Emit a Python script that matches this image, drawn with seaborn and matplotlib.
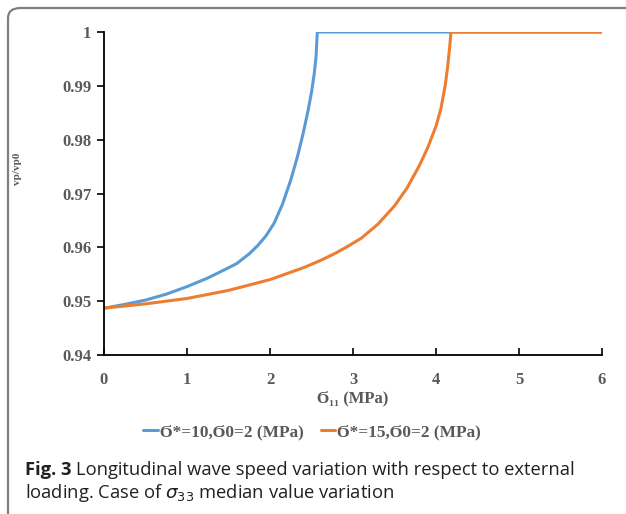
import matplotlib
matplotlib.use("Agg")
import matplotlib.pyplot as plt
import seaborn as sns
import pandas as pd
from matplotlib.patches import FancyBboxPatch

# 读图得到的数据
blue_x = [0, 0.25, 0.5, 0.75, 1.0, 1.25, 1.5, 1.6, 1.75, 1.85, 1.95, 2.05, 2.15, 2.25, 2.33, 2.4,
          2.46, 2.5, 2.535, 2.555, 2.57, 4.2, 6.0]
blue_y = [0.9487, 0.9494, 0.9502, 0.9513, 0.9527, 0.9543, 0.9562, 0.9570, 0.9588, 0.9603, 0.9621,
          0.9645, 0.9680, 0.9725, 0.9768, 0.9812, 0.9855, 0.9888, 0.9925, 0.9955, 1.0, 1.0, 1.0]
orange_x = [0, 0.5, 1.0, 1.5, 2.0, 2.4, 2.6, 2.8, 2.95, 3.1, 3.3, 3.5, 3.65, 3.8, 3.9, 4.0, 4.06,
            4.11, 4.14, 4.165, 4.18, 6.0]
orange_y = [0.9487, 0.9495, 0.9505, 0.9520, 0.9540, 0.9562, 0.9575, 0.9590, 0.9603, 0.9617, 0.9643,
            0.9677, 0.9710, 0.9752, 0.9785, 0.9825, 0.9858, 0.9900, 0.9935, 0.9972, 1.0, 1.0]
series_names = ["Ϭ*=10,Ϭ0=2 (MPa)", "Ϭ*=15,Ϭ0=2 (MPa)"]
series_colors = ["#5B9BD5", "#ED7D31"]
x_ticks = [0, 1, 2, 3, 4, 5, 6]
y_ticks = [0.94, 0.95, 0.96, 0.97, 0.98, 0.99, 1.0]
y_tick_labels = ["0.94", "0.95", "0.96", "0.97", "0.98", "0.99", "1"]

sns.set_style("white")
serif = ["Liberation Serif", "DejaVu Serif"]
gray = "#595959"

fig = plt.figure(figsize=(6.26, 5.14), dpi=100)
ax = fig.add_axes([104 / 626, 1 - 355 / 514, 498 / 626, 323 / 514])

df1 = pd.DataFrame({"x": blue_x, "y": blue_y})
df2 = pd.DataFrame({"x": orange_x, "y": orange_y})
sns.lineplot(data=df1, x="x", y="y", ax=ax, color=series_colors[0], lw=2.2, sort=False,
             label=series_names[0])
sns.lineplot(data=df2, x="x", y="y", ax=ax, color=series_colors[1], lw=2.2, sort=False,
             label=series_names[1])

ax.set_xlim(0, 6)
ax.set_ylim(0.94, 1.0)
ax.set_xticks(x_ticks)
ax.set_yticks(y_ticks)
ax.set_xticklabels([str(t) for t in x_ticks])
ax.set_yticklabels(y_tick_labels)
for lab in ax.get_xticklabels() + ax.get_yticklabels():
    lab.set_family(serif)
    lab.set_fontweight("bold")
    lab.set_color(gray)
    lab.set_fontsize(12)
ax.tick_params(axis="y", direction="out", length=5, width=1.2, color="black", pad=4, left=True)
ax.tick_params(axis="x", direction="in", length=5, width=1.2, color="black", pad=12, bottom=True)
for s in ["top", "right"]:
    ax.spines[s].set_visible(False)
for s in ["left", "bottom"]:
    ax.spines[s].set_color("black")
    ax.spines[s].set_linewidth(1.3)

ax.set_xlabel("Ϭ₁₁ (MPa)", family=serif, fontweight="bold", color=gray, fontsize=12, labelpad=2)
ax.set_ylabel("vp/vp0", family=serif, fontweight="bold", color=gray, fontsize=8)
ax.yaxis.set_label_coords(-0.165, 0.576)

leg = ax.legend(loc="center", bbox_to_anchor=(0.418, -0.238), ncol=2, frameon=False,
                handlelength=0.85, handletextpad=0.1, columnspacing=1.0,
                prop={"family": serif, "weight": "bold", "size": 12.4})
for t in leg.get_texts():
    t.set_color(gray)

# 外框
frame = FancyBboxPatch((8 / 626, -0.1), 1.2, 1.1 - 8 / 514, transform=fig.transFigure,
                       boxstyle="round,pad=0,rounding_size=0.02", fc="none", ec="#7f7f7f", lw=1.6,
                       clip_on=False)
fig.patches.append(frame)

# 图注
cap_font = ["Open Sans", "DejaVu Sans"]
t1 = fig.text(25 / 626, 1 - 475 / 514, "Fig. 3", family=cap_font, fontweight="bold", fontsize=13.2,
              color="#231f20")
fig.canvas.draw()
bb = t1.get_window_extent()
fig.text((bb.x1 + 5) / 626, 1 - 475 / 514, "Longitudinal wave speed variation with respect to external",
         family=cap_font, fontsize=13.2, color="#231f20")
fig.text(25 / 626, 1 - 498 / 514, r"loading. Case of $\sigma_{33}$ median value variation",
         family=cap_font, fontsize=13.2, color="#231f20")

fig.savefig("out.png", dpi=100)
